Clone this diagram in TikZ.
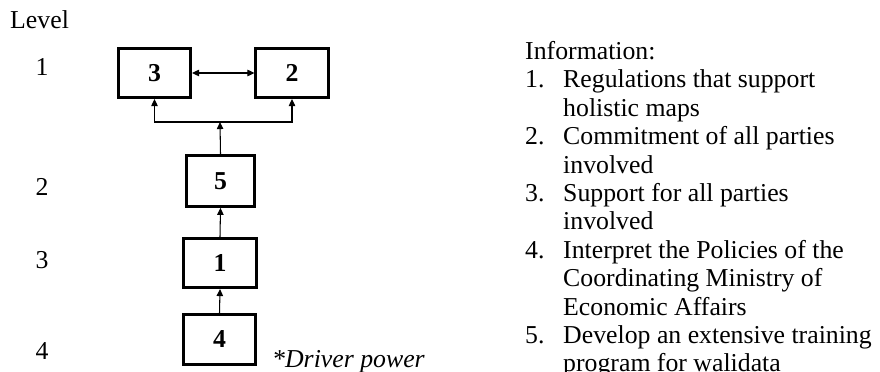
\documentclass[tikz,border=0pt]{standalone}
\usepackage{fontspec}
\setmainfont{Liberation Serif}
\usetikzlibrary{arrows.meta}

\begin{document}
\begin{tikzpicture}[x=0.03cm, y=-0.03cm, every node/.style={inner sep=0pt, font=\fontsize{22}{24.25}\selectfont}]

% Define styles
\tikzstyle{factor} = [draw=black, line width=2.3pt, minimum width=2.17cm, minimum height=1.48cm, font=\fontsize{22}{24.25}\selectfont\bfseries]
\tikzstyle{flow} = [line width=0.9pt, -{Triangle[length=6pt, width=5.5pt]}]
\tikzstyle{lvl} = [anchor=base]

\useasboundingbox (0,0) rectangle (880,372);

% Level column
\node[anchor=base west] (level) at (10,29) {Level};
\node[lvl] (lvl1) at (42,76) {1};
\node[lvl] (lvl2) at (42,195) {2};
\node[lvl] (lvl3) at (42,268) {3};
\node[lvl] (lvl4) at (42,359) {4};

% Factor boxes
\node[factor] (b3) at (154.5,73) {3};
\node[factor] (b2) at (292,73) {2};
\node[factor, minimum width=2.05cm, minimum height=1.53cm] (b5) at (220.5,181) {5};
\node[factor] (b1) at (220,263) {1};
\node[factor] (b4) at (219.5,339.5) {4};

% Connections
\coordinate (fork) at (220,122);
\draw[line width=0.9pt, {Triangle[length=6pt, width=5.5pt]}-{Triangle[length=6pt, width=5.5pt]}] (b3) -- (b2);
\draw[flow] (b5.north) -- (fork);
\draw[flow] (fork) -| (b3.south);
\draw[flow] (fork) -| (b2.south);
\draw[flow] (b1.north) -- (b5.south);
\draw[flow] (b4.north) -- (b1.south);

\node[anchor=base west, font=\fontsize{22}{24.25}\selectfont\itshape] (driver) at (272,367) {*Driver power};

% Information list
\node[anchor=north west, align=left] (info) at (525,41) {Information:\\
\makebox[1.14cm][l]{1.}Regulations that support\\
\hspace*{1.14cm}holistic maps\\
\makebox[1.14cm][l]{2.}Commitment of all parties\\
\hspace*{1.14cm}involved\\
\makebox[1.14cm][l]{3.}Support for all parties\\
\hspace*{1.14cm}involved\\
\makebox[1.14cm][l]{4.}Interpret the Policies of the\\
\hspace*{1.14cm}Coordinating Ministry of\\
\hspace*{1.14cm}Economic Affairs\\
\makebox[1.14cm][l]{5.}Develop an extensive training\\
\hspace*{1.14cm}program for walidata};

\end{tikzpicture}
\end{document}
